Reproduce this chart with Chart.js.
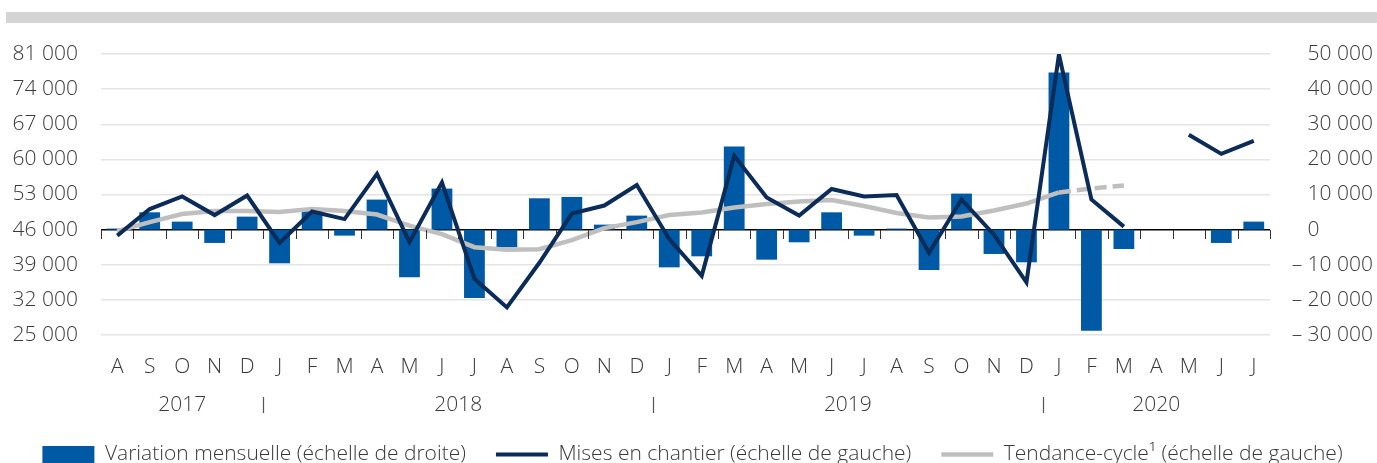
<!DOCTYPE html>
<html lang="fr">
<head>
<meta charset="utf-8">
<script src="https://cdn.jsdelivr.net/npm/chart.js@4.4.1/dist/chart.umd.min.js"></script>
<style>
  html, body { margin: 0; padding: 0; background: #fff; }
</style>
</head>
<body>
<canvas id="chart" width="1377" height="463"></canvas>
<script>
// Mois d'août 2017 à juillet 2020
const mois = ["A", "S", "O", "N", "D",
  "J", "F", "M", "A", "M", "J", "J", "A", "S", "O", "N", "D",
  "J", "F", "M", "A", "M", "J", "J", "A", "S", "O", "N", "D",
  "J", "F", "M", "A", "M", "J", "J"];

// Années et index du premier mois de chacune
const annees = ["2017", "2018", "2019", "2020"];
const debutAnnee = [0, 5, 17, 29];

// Variation mensuelle (échelle de droite)
const variation = [300, 4930, 2280, -3790, 3700, -9590, 5600, -1710, 8550, -13590, 11680, -19460,
  -5040, 8920, 9310, 1420, 3990, -10740, -7600, 23650, -8550, -3610, 4930, -1710,
  300, -11490, 10260, -6930, -9310, 44730, -28770, -5510, null, null, -3800, 2280];

// Mises en chantier (échelle de gauche)
const chantiers = [44800, 50100, 52600, 48900, 52800, 43350, 49600, 48100, 57100, 43500, 55400, 36200,
  30500, 39400, 49200, 50800, 54900, 44100, 36800, 60700, 52400, 48800, 54100, 52600,
  52900, 41400, 52000, 45000, 35500, 80900, 52000, 46600, null, 64900, 61100, 63700];

// Tendance-cycle (échelle de gauche)
const tendance = [45700, 47500, 49100, 49700, 49700, 49500, 50100, 49700, 49000, 46800, 45100, 42500,
  42000, 42100, 43900, 46300, 47500, 48900, 49400, 50400, 51100, 51600, 51900, 50700,
  49300, 48400, 48600, 49800, 51200, 53400, 54200, 54800, null, null, null, null];

// Échelles
const gaucheMin = 25000, gaucheMax = 81000, gauchePas = 7000, gaucheZero = 46000;
const droiteMin = -30000, droiteMax = 50000, droitePas = 10000;

const POLICE = "'Open Sans', sans-serif";
const GRIS_TEXTE = "#3a3a3a";

// Nombre avec espace comme séparateur de milliers
function formatNombre(v) {
  const s = Math.abs(v).toString().replace(/\B(?=(\d{3})+(?!\d))/g, " ");
  return v < 0 ? "\u2013 " + s : s;
}

// Bandeau gris en haut
const bandeau = {
  id: "bandeau",
  beforeDraw(chart) {
    const ctx = chart.ctx;
    ctx.save();
    ctx.fillStyle = "#d4d4d4";
    ctx.fillRect(6, 12, chart.width - 6, 11);
    ctx.restore();
  }
};

// Petits traits sous la ligne du zéro + rangée des années
const axeMois = {
  id: "axeMois",
  afterDatasetsDraw(chart) {
    const { ctx, scales: { x, y } } = chart;
    const y0 = Math.round(y.getPixelForValue(gaucheZero));
    ctx.save();
    ctx.strokeStyle = "#333";
    ctx.lineWidth = 1;
    for (let i = 0; i <= mois.length; i++) {
      const px = Math.round(x.getPixelForValue(i - 0.5)) + 0.5;
      ctx.beginPath();
      ctx.moveTo(px, y0);
      ctx.lineTo(px, y0 + 9);
      ctx.stroke();
    }
    ctx.restore();
  },
  afterDraw(chart) {
    const { ctx, scales: { x } } = chart;
    const yAn = x.top + 70;
    ctx.save();
    ctx.font = "300 21px " + POLICE;
    ctx.fillStyle = GRIS_TEXTE;
    ctx.textAlign = "center";
    ctx.textBaseline = "middle";
    annees.forEach((an, k) => {
      const debut = debutAnnee[k];
      const fin = k + 1 < debutAnnee.length ? debutAnnee[k + 1] - 1 : mois.length - 1;
      const cx = (x.getPixelForValue(debut) + x.getPixelForValue(fin)) / 2;
      ctx.fillText(an, cx, yAn);
      if (k > 0) {
        const sx = Math.round(x.getPixelForValue(debut - 0.5)) + 0.5;
        ctx.strokeStyle = "#555";
        ctx.lineWidth = 1.2;
        ctx.beginPath();
        ctx.moveTo(sx, yAn - 8);
        ctx.lineTo(sx, yAn + 8);
        ctx.stroke();
      }
    });
    ctx.restore();
  }
};

Chart.defaults.font.family = POLICE;
Chart.defaults.font.size = 21;
Chart.defaults.font.weight = "300";
Chart.defaults.color = GRIS_TEXTE;

new Chart(document.getElementById("chart").getContext("2d"), {
  type: "bar",
  data: {
    labels: mois,
    datasets: [
      {
        type: "bar",
        label: "Variation mensuelle (échelle de droite)",
        data: variation,
        yAxisID: "y1",
        backgroundColor: "#0059a5",
        borderWidth: 0,
        barPercentage: 0.64,
        categoryPercentage: 1,
        pointStyle: "rect",
        order: 2,
      },
      {
        type: "line",
        label: "Mises en chantier (échelle de gauche)",
        data: chantiers,
        yAxisID: "y",
        borderColor: "#0b2c58",
        backgroundColor: "#0b2c58",
        borderWidth: 4,
        pointRadius: 0,
        tension: 0,
        spanGaps: false,
        pointStyle: "line",
        order: 0,
      },
      {
        type: "line",
        label: "Tendance-cycle\u00b9 (échelle de gauche)",
        data: tendance,
        yAxisID: "y",
        borderColor: "#bfbfbf",
        backgroundColor: "#bfbfbf",
        borderWidth: 4.5,
        pointRadius: 0,
        tension: 0,
        pointStyle: "line",
        segment: {
          borderDash: (c) => (c.p0DataIndex >= 29 ? [12, 6] : undefined),
        },
        order: 1,
      },
    ],
  },
  options: {
    responsive: false,
    animation: false,
    devicePixelRatio: 1,
    layout: { padding: { top: 54, left: 12, right: 4, bottom: -12 } },
    plugins: {
      legend: {
        position: "bottom",
        labels: {
          usePointStyle: true,
          pointStyleWidth: 52,
          boxHeight: 17,
          padding: 30,
          color: GRIS_TEXTE,
          font: { size: 21, weight: "300" },
          sort: (a, b) => a.datasetIndex - b.datasetIndex,
        },
      },
      tooltip: { enabled: false },
    },
    scales: {
      x: {
        grid: { display: false },
        border: { display: false },
        ticks: { autoSkip: false, maxRotation: 0, padding: 11 },
        afterFit: (scale) => { scale.height = 79; },
      },
      y: {
        position: "left",
        min: gaucheMin,
        max: gaucheMax,
        border: { display: false },
        grid: {
          drawTicks: false,
          color: (c) => (c.tick && c.tick.value === gaucheZero ? "#000" : "#e4e4e4"),
          lineWidth: 1.5,
        },
        ticks: { stepSize: gauchePas, autoSkip: false, padding: 23, callback: (v) => formatNombre(v) },
        afterFit: (scale) => { scale.width = 89; },
      },
      y1: {
        position: "right",
        min: droiteMin,
        max: droiteMax,
        border: { display: false },
        grid: { display: false, drawTicks: false },
        ticks: {
          stepSize: droitePas,
          autoSkip: false,
          padding: 20,
          crossAlign: "far",
          callback: (v) => (v === 0 ? "0\u2007 \u2007\u2007\u2007" : formatNombre(v)),
        },
        afterFit: (scale) => { scale.width = 103; },
      },
    },
  },
  plugins: [bandeau, axeMois],
});
</script>
</body>
</html>
